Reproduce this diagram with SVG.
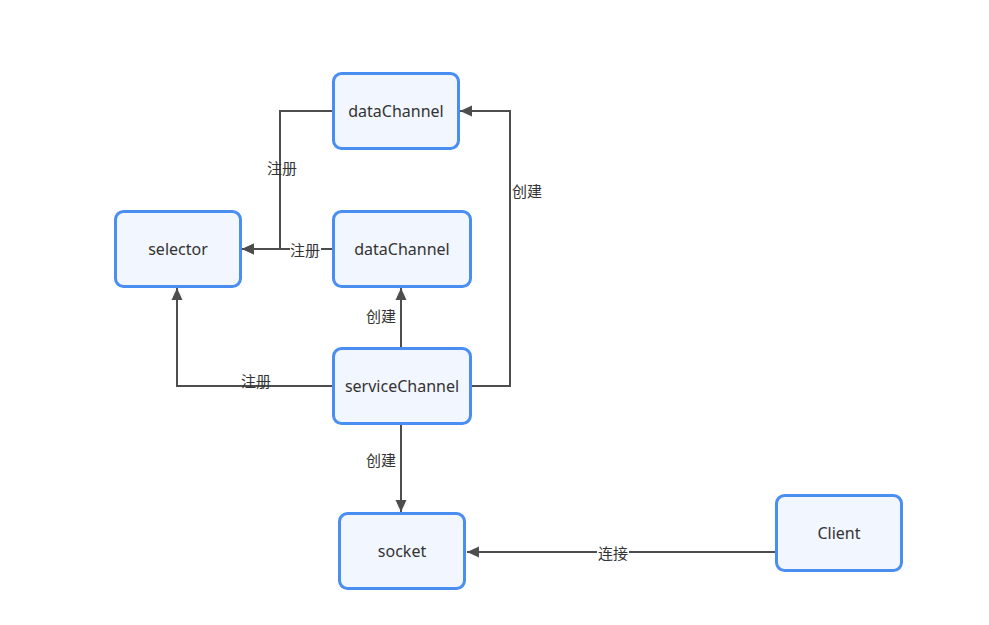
<svg xmlns="http://www.w3.org/2000/svg" width="989" height="625" viewBox="0 0 989 625">
  <style>
    .node rect { fill: #f2f6fe; stroke: #4a8ef2; stroke-width: 3; }
    .node text { font-family: "Noto Sans", "Noto Sans CJK SC", sans-serif; font-size: 16px; fill: #333333; text-anchor: middle; dominant-baseline: central; }
    .edge { fill: none; stroke: #4d4d4d; stroke-width: 2; }
    .lbl { font-family: "Noto Sans CJK SC", sans-serif; font-size: 15px; fill: #333333; text-anchor: middle; dominant-baseline: central; }
    .lblbg { fill: #ffffff; }
  </style>
  <defs>
    <marker id="arrow" viewBox="0 0 12 12" refX="12" refY="6" markerWidth="12" markerHeight="12" markerUnits="userSpaceOnUse" orient="auto">
      <path d="M0,0.5 L12,6 L0,11.5 z" fill="#4d4d4d"/>
    </marker>
  </defs>
  <rect width="989" height="625" fill="#ffffff"/>

  <g id="connectors">
    <!-- dataChannel (top) registers with selector -->
    <path class="edge" d="M333,111 H280 V249 H242" marker-end="url(#arrow)"/>
    <text class="lbl" x="282" y="167">注册</text>
    <!-- dataChannel registers with selector -->
    <path class="edge" d="M333,249 H242" marker-end="url(#arrow)"/>
    <rect class="lblbg" x="290" y="241" width="31" height="16"/>
    <text class="lbl" x="305" y="249">注册</text>
    <!-- serviceChannel registers with selector -->
    <path class="edge" d="M333,386 H177 V288" marker-end="url(#arrow)"/>
    <text class="lbl" x="256" y="380">注册</text>
    <!-- serviceChannel creates dataChannel -->
    <path class="edge" d="M401,349 V288" marker-end="url(#arrow)"/>
    <text class="lbl" x="381" y="315">创建</text>
    <!-- serviceChannel creates dataChannel (top) -->
    <path class="edge" d="M470,386 H510 V111 H460" marker-end="url(#arrow)"/>
    <rect class="lblbg" x="511" y="182" width="32" height="16"/>
    <text class="lbl" x="527" y="190">创建</text>
    <!-- serviceChannel creates socket -->
    <path class="edge" d="M401,424 V512" marker-end="url(#arrow)"/>
    <text class="lbl" x="381" y="459">创建</text>
    <!-- Client connects to socket -->
    <path class="edge" d="M777,552 H467" marker-end="url(#arrow)"/>
    <rect class="lblbg" x="597" y="544" width="32" height="16"/>
    <text class="lbl" x="613" y="552">连接</text>
  </g>

  <g id="dataChannel1" class="node">
    <rect x="333.5" y="73.5" width="125" height="75" rx="8"/>
    <text x="396" y="111">dataChannel</text>
  </g>
  <g id="selector" class="node">
    <rect x="115.5" y="211.5" width="125" height="75" rx="8"/>
    <text x="178" y="249">selector</text>
  </g>
  <g id="dataChannel2" class="node">
    <rect x="333.5" y="211.5" width="137" height="75" rx="8"/>
    <text x="402" y="249">dataChannel</text>
  </g>
  <g id="serviceChannel" class="node">
    <rect x="333.5" y="348.5" width="137" height="75" rx="8"/>
    <text x="402" y="386">serviceChannel</text>
  </g>
  <g id="socket" class="node">
    <rect x="339.5" y="513.5" width="125" height="75" rx="8"/>
    <text x="402" y="551">socket</text>
  </g>
  <g id="client" class="node">
    <rect x="776.5" y="495.5" width="125" height="75" rx="8"/>
    <text x="839" y="533">Client</text>
  </g>
</svg>
